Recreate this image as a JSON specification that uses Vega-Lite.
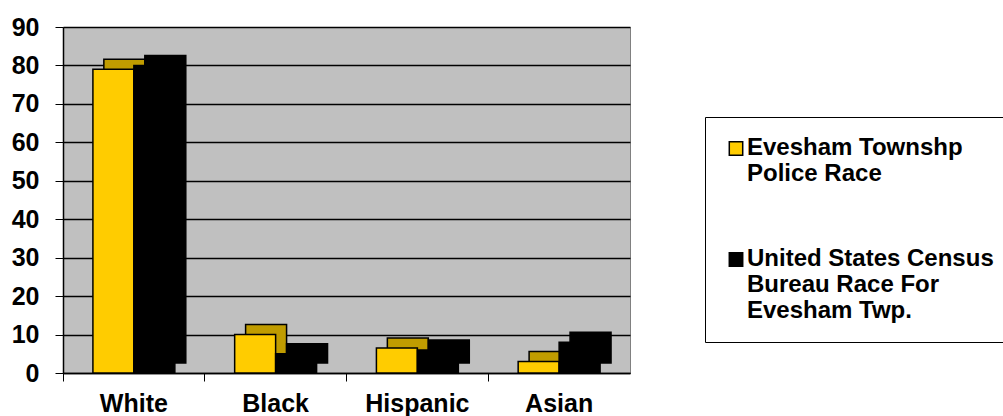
{
  "$schema": "https://vega.github.io/schema/vega-lite/v6.json",
  "width": 567,
  "height": 346,
  "autosize": {"type": "none"},
  "padding": {"left": 63, "top": 27, "right": 373, "bottom": 43},
  "background": "white",
  "config": {
    "font": "Liberation Sans",
    "view": {"fill": "#c0c0c0", "stroke": "#808080", "strokeWidth": 1}
  },
  "data": {
    "values": [
      {"race": "White", "series": "Evesham Townshp Police Race", "pct": 79},
      {"race": "White", "series": "United States Census Bureau Race For Evesham Twp.", "pct": 80},
      {"race": "Black", "series": "Evesham Townshp Police Race", "pct": 10},
      {"race": "Black", "series": "United States Census Bureau Race For Evesham Twp.", "pct": 5},
      {"race": "Hispanic", "series": "Evesham Townshp Police Race", "pct": 6.5},
      {"race": "Hispanic", "series": "United States Census Bureau Race For Evesham Twp.", "pct": 6},
      {"race": "Asian", "series": "Evesham Townshp Police Race", "pct": 3},
      {"race": "Asian", "series": "United States Census Bureau Race For Evesham Twp.", "pct": 8}
    ]
  },
  "encoding": {
    "x": {
      "field": "race",
      "type": "nominal",
      "sort": ["White", "Black", "Hispanic", "Asian"],
      "scale": {"paddingInner": 0, "paddingOuter": 0},
      "axis": {
        "title": null,
        "labelAngle": 0,
        "labelFont": "Liberation Sans",
        "labelFontSize": 25,
        "labelFontWeight": "bold",
        "labelColor": "black",
        "labelPadding": 10,
        "bandPosition": 0,
        "tickColor": "black",
        "tickSize": 8,
        "domainColor": "black",
        "domainWidth": 1.5
      }
    },
    "y": {
      "field": "pct",
      "type": "quantitative",
      "scale": {"domain": [0, 90]},
      "axis": {
        "title": null,
        "values": [0, 10, 20, 30, 40, 50, 60, 70, 80, 90],
        "labelFont": "Liberation Sans",
        "labelFontSize": 25,
        "labelFontWeight": "bold",
        "labelColor": "black",
        "labelPadding": 16,
        "tickColor": "black",
        "tickSize": 8,
        "domainColor": "black",
        "domainWidth": 1.5,
        "grid": true,
        "gridColor": "black",
        "gridWidth": 1.5
      }
    }
  },
  "layer": [
    {
      "mark": {"type": "bar", "yOffset": -10, "stroke": "black", "strokeWidth": 1.5},
      "encoding": {
        "xOffset": {
          "field": "series",
          "type": "nominal",
          "scale": {"paddingInner": 0, "paddingOuter": 0.73, "align": 0.683}
        },
        "color": {
          "field": "series",
          "type": "nominal",
          "scale": {"range": ["#c09c00", "#000000"]},
          "legend": null
        }
      }
    },
    {
      "mark": {"type": "bar", "stroke": "black", "strokeWidth": 1.5},
      "encoding": {
        "xOffset": {
          "field": "series",
          "type": "nominal",
          "scale": {"paddingInner": 0, "paddingOuter": 0.73}
        },
        "color": {
          "field": "series",
          "type": "nominal",
          "scale": {"range": ["#ffcc00", "#000000"]},
          "legend": {
            "title": " ",
            "titleFontSize": 4,
            "titlePadding": 3,
            "orient": "none",
            "legendX": 642,
            "legendY": 90,
            "strokeColor": "black",
            "fillColor": "white",
            "padding": 19,
            "symbolType": "M-1,-1.98H1V0.02H-1Z",
            "symbolSize": 180,
            "symbolStrokeColor": "black",
            "symbolStrokeWidth": 1.5,
            "labelFont": "Liberation Sans",
            "labelFontSize": 24,
            "labelFontWeight": "bold",
            "labelColor": "black",
            "labelLimit": 400,
            "labelBaseline": "alphabetic",
            "labelOffset": -1,
            "rowPadding": 61,
            "labelExpr": "datum.label == 'Evesham Townshp Police Race' ? ['Evesham Townshp', 'Police Race'] : ['United States Census', 'Bureau Race For', 'Evesham Twp.']"
          }
        }
      }
    }
  ],
  "resolve": {"scale": {"color": "independent", "xOffset": "independent"}}
}
